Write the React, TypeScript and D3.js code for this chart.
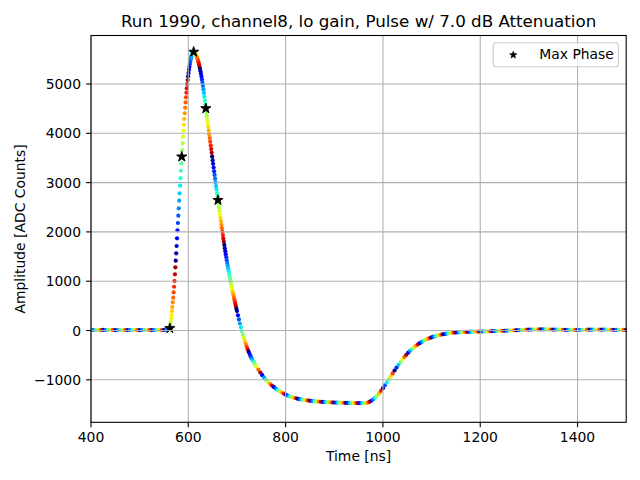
import * as d3 from "d3";

// waveform samples (ns, ADC counts)
const baseStart = 400;
const baseStep = 5;
const baseAmp = [10, 12, 9, 11, 10, 13, 9, 10, 12, 11, 9, 10, 11, 12, 10, 9, 11, 10, 12, 10, 9, 11, 12, 10, 11, 9, 10, 12, 11, 10, 12, 14, 18];

const riseStart = 562;
const riseStep = 0.875;
const riseAmp = [
  45, 105, 170, 240, 314, 396, 477, 572, 665, 775, 888, 1004, 1140, 1282, 1416, 1566, 1714, 1870, 2032, 2181,
  2329, 2478, 2633, 2783, 2937, 3090, 3241, 3391, 3525, 3661, 3797, 3931, 4053, 4174, 4290, 4406, 4519, 4629, 4730, 4824,
  4913, 5000, 5081, 5155, 5225, 5290, 5350, 5405, 5455, 5500, 5540, 5575, 5605, 5628, 5645, 5655,
];

const fallStart = 611;
const fallStep = 1;
const fallAmp = [
  5651, 5645, 5635, 5622, 5605, 5585, 5562, 5536, 5506, 5473, 5437, 5397, 5354, 5308, 5259, 5206, 5150, 5090, 5028, 4962,
  4892, 4820, 4744, 4665, 4585, 4505, 4430, 4355, 4280, 4205, 4130, 4055, 3980, 3905, 3830, 3755, 3680, 3605, 3530, 3455,
  3380, 3305, 3230, 3155, 3080, 3005, 2930, 2858, 2786, 2715, 2645, 2573, 2501, 2429, 2357, 2286, 2215, 2145, 2075, 2005,
  1936, 1868, 1801, 1735, 1671, 1608, 1546, 1486, 1427, 1369, 1312, 1256, 1201, 1147, 1094, 1042, 991, 941, 892, 844,
  797, 750, 704, 658, 613, 568, 524, 480, 437, 394,
];

const underStart = 702;
const underStep = 2;
const underAmp = [308, 224, 142, 64, -10, -80, -147, -211, -271, -327, -380, -430, -477, -521, -562, -600, -636, -670, -703, -735];

const slowStart = 744;
const slowStep = 4;
const slowAmp = [
  -795, -853, -907, -957, -1003, -1045, -1083, -1118, -1150, -1180, -1208, -1234, -1258, -1280, -1300,
  -1318, -1334, -1348, -1360, -1371, -1381, -1390, -1398, -1405, -1411, -1417, -1422, -1427, -1431, -1435,
  -1439, -1442, -1445, -1448, -1450, -1452, -1454, -1456, -1458, -1460,
  -1461, -1462, -1464, -1465, -1466, -1467, -1468, -1469, -1470, -1471, -1472, -1473, -1474, -1475, -1476,
  -1476, -1466, -1448, -1425, -1395, -1360, -1320, -1274, -1223, -1169,
  -1112, -1053, -993, -932, -871, -811, -752, -695, -640, -588, -539, -493, -450, -410, -373,
  -339, -308, -280, -254, -230, -208, -188, -170, -154, -139,
  -126, -114, -103, -93, -84, -76, -69, -62, -56, -51, -46, -42, -38, -35, -32,
  -30, -28, -26, -25, -24, -23, -22, -22, -21, -20,
];

const tailStart = 1205;
const tailStep = 5;
const tailAmp = [
  -19, -18, -17, -16, -14, -13, -11, -9, -7, -5, -3, -1, 2, 4, 7, 9, 12, 14, 16, 18,
  19, 20, 21, 22, 22, 22, 21, 21, 20, 19, 18, 17, 16, 15, 14, 13, 12, 12, 12, 12,
  13, 14, 15, 16, 17, 18, 19, 19, 19, 19, 18, 17, 16, 15, 14, 13, 12, 12, 11, 11,
];

// max phase samples
const starTime = [562, 586.5, 611, 636, 661];
const starAmp = [45, 3525, 5651, 4505, 2645];

const xTicks = [400, 600, 800, 1000, 1200, 1400];
const yTicks = [-1000, 0, 1000, 2000, 3000, 4000, 5000];

const title = "Run 1990, channel8, lo gain, Pulse w/ 7.0 dB Attenuation";
const phasePeriod = 25;
const phaseRef = 574;

const segments = [
  { start: baseStart, step: baseStep, amp: baseAmp },
  { start: riseStart, step: riseStep, amp: riseAmp },
  { start: fallStart, step: fallStep, amp: fallAmp },
  { start: underStart, step: underStep, amp: underAmp },
  { start: slowStart, step: slowStep, amp: slowAmp },
  { start: tailStart, step: tailStep, amp: tailAmp },
];

// matplotlib jet
const jr = d3.scaleLinear([0, 0.35, 0.66, 0.89, 1], [0, 0, 1, 1, 0.5]).clamp(true);
const jg = d3.scaleLinear([0, 0.125, 0.375, 0.64, 0.91, 1], [0, 0, 1, 1, 0, 0]).clamp(true);
const jb = d3.scaleLinear([0, 0.11, 0.34, 0.65, 1], [0.5, 1, 1, 0, 0]).clamp(true);
const jet = (v: number) => d3.rgb(jr(v) * 255, jg(v) * 255, jb(v) * 255).formatHex();

const W = 640;
const H = 480;
const left = 91;
const right = 626.2;
const top = 35.5;
const bottom = 422.3;
const font = "DejaVu Sans, sans-serif";

export default function App() {
  const x = d3.scaleLinear().domain([400, 1500]).range([left, right]);
  const y = d3.scaleLinear().domain([-1862, 5984]).range([bottom, top]);

  const pts = segments.flatMap((s) => s.amp.map((a, i) => ({ t: s.start + i * s.step, a })));
  const star = d3.symbol(d3.symbolStar, 32)();
  const starSmall = d3.symbol(d3.symbolStar, 15)();
  const fmt = (v: number) => (v < 0 ? "\u2212" + Math.abs(v) : String(v));

  return (
    <svg width={W} height={H} viewBox={`0 0 ${W} ${H}`} style={{ position: "fixed", left: 0, top: 0, background: "#fff" }}>
      <rect x={0} y={0} width={W} height={H} fill="#fff" />
      <clipPath id="plot">
        <rect x={left} y={top} width={right - left} height={bottom - top} />
      </clipPath>
      <g clipPath="url(#plot)">
        {pts.map((p, i) => {
          const ph = (((p.t - phaseRef) / phasePeriod) % 1 + 1) % 1;
          return <circle key={i} cx={x(p.t)} cy={y(p.a)} r={2.1} fill={jet(ph)} />;
        })}
        {starTime.map((t, i) => (
          <path key={i} d={star!} transform={`translate(${x(t)},${y(starAmp[i])})`} fill="#000" stroke="#000" strokeWidth={1} strokeLinejoin="round" />
        ))}
      </g>
      <g stroke="#b0b0b0" strokeWidth={1.1}>
        {xTicks.map((t) => (
          <line key={t} x1={x(t)} x2={x(t)} y1={top} y2={bottom} />
        ))}
        {yTicks.map((t) => (
          <line key={t} x1={left} x2={right} y1={y(t)} y2={y(t)} />
        ))}
      </g>
      <rect x={left} y={top} width={right - left} height={bottom - top} fill="none" stroke="#000" strokeWidth={1.1} />
      <g stroke="#000" strokeWidth={1.1}>
        {xTicks.map((t) => (
          <line key={t} x1={x(t)} x2={x(t)} y1={bottom} y2={bottom + 4.9} />
        ))}
        {yTicks.map((t) => (
          <line key={t} x1={left - 4.9} x2={left} y1={y(t)} y2={y(t)} />
        ))}
      </g>
      <g fontFamily={font} fontSize={13.9} fill="#000">
        {xTicks.map((t) => (
          <text key={t} x={x(t)} y={441.7} textAnchor="middle">
            {t}
          </text>
        ))}
        {yTicks.map((t) => (
          <text key={t} x={81} y={y(t) + 5} textAnchor="end">
            {fmt(t)}
          </text>
        ))}
        <text x={(left + right) / 2} y={461} textAnchor="middle">
          Time [ns]
        </text>
        <text transform={`translate(25,${(top + bottom) / 2}) rotate(-90)`} textAnchor="middle">
          Amplitude [ADC Counts]
        </text>
      </g>
      <text x={(left + right) / 2} y={27} textAnchor="middle" fontFamily={font} fontSize={16.7}>
        {title}
      </text>
      <g>
        <rect x={493.3} y={42.7} width={125} height={24} rx={2.8} fill="#fff" fillOpacity={0.8} stroke="#cccccc" strokeWidth={1.1} />
        <path d={starSmall!} transform="translate(513.3,55)" fill="#000" stroke="#000" strokeWidth={0.8} strokeLinejoin="round" />
        <text x={539.3} y={59.3} fontFamily={font} fontSize={13.9}>
          Max Phase
        </text>
      </g>
    </svg>
  );
}
